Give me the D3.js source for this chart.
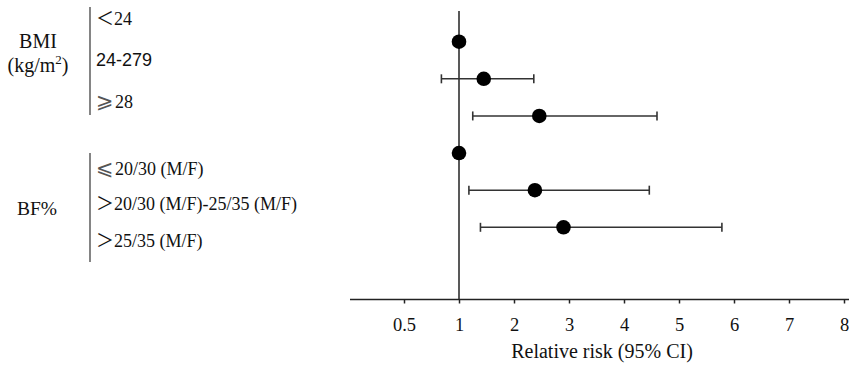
<!DOCTYPE html>
<html>
<head>
<meta charset="utf-8">
<script src="https://cdn.jsdelivr.net/npm/d3@7"></script>
<style>
  body { margin: 0; background: #fff; }
  text { font-family: "Liberation Serif", "Times New Roman", serif; fill: #111; }
</style>
</head>
<body>
<div id="chart"></div>
<script>
// data
const categories = ["＜24", "24-279", "⩾28", "⩽20/30 (M/F)", "＞20/30 (M/F)-25/35 (M/F)", "＞25/35 (M/F)"];
const groups = ["BMI", "BMI", "BMI", "BF%", "BF%", "BF%"];
const rr = [1, 1.45, 2.46, 1, 2.38, 2.90];
const ciLow = [null, 0.84, 1.25, null, 1.18, 1.39];
const ciHigh = [null, 2.36, 4.60, null, 4.46, 5.78];
const tickValues = [0.5, 1, 2, 3, 4, 5, 6, 7, 8];

const width = 849, height = 365;
const axisY = 299.5;
// label baselines are not aligned with points in the source figure
const labelBaseline = [25, 66, 108, 175, 210, 246.5];

const svg = d3.select("#chart").append("svg")
  .attr("width", width)
  .attr("height", height);

// ticks are evenly spaced, so piecewise linear scale
const x = d3.scaleLinear()
  .domain(tickValues)
  .range(tickValues.map((d, i) => 404 + i * 55));

const y = d3.scalePoint()
  .domain(categories)
  .range([41.7, 227.3]);

// axis
const axis = svg.append("g")
  .attr("transform", `translate(0,${axisY})`)
  .call(d3.axisBottom(x).tickValues(tickValues).tickFormat(d3.format("")).tickSize(4).tickSizeOuter(0));
axis.select(".domain").remove();
axis.selectAll(".tick line").attr("stroke", "#222").attr("stroke-width", 1.5);
axis.selectAll(".tick text")
  .attr("y", 0).attr("dy", null)
  .attr("transform", "translate(0,31.5)")
  .style("font-family", "'Liberation Serif', serif")
  .style("font-size", "18.5px")
  .attr("fill", "#111");
axis.append("line")
  .attr("x1", 350).attr("x2", width)
  .attr("stroke", "#222").attr("stroke-width", 1.5);

svg.append("text")
  .attr("x", 602).attr("y", 358)
  .attr("text-anchor", "middle")
  .style("font-size", "20px")
  .text("Relative risk (95% CI)");

// reference line at RR = 1
svg.append("line")
  .attr("x1", x(1)).attr("x2", x(1))
  .attr("y1", 11).attr("y2", axisY)
  .attr("stroke", "#222").attr("stroke-width", 1.5);

// error bars
const rows = categories.map((c, i) => ({ c, rr: rr[i], lo: ciLow[i], hi: ciHigh[i] }));
const ci = svg.append("g").selectAll("g")
  .data(rows.filter(d => d.lo != null))
  .join("g")
  .attr("stroke", "#333").attr("stroke-width", 1.6);
ci.append("line")
  .attr("x1", d => x(d.lo)).attr("x2", d => x(d.hi))
  .attr("y1", d => y(d.c)).attr("y2", d => y(d.c));
ci.append("line")
  .attr("x1", d => x(d.lo)).attr("x2", d => x(d.lo))
  .attr("y1", d => y(d.c) - 4.5).attr("y2", d => y(d.c) + 4.5);
ci.append("line")
  .attr("x1", d => x(d.hi)).attr("x2", d => x(d.hi))
  .attr("y1", d => y(d.c) - 4.5).attr("y2", d => y(d.c) + 4.5);

// points
svg.append("g").selectAll("circle")
  .data(rows)
  .join("circle")
  .attr("cx", d => x(d.rr))
  .attr("cy", d => y(d.c))
  .attr("r", 7.3)
  .attr("fill", "#000");

// category labels; leading comparison sign drawn in its own tspan
const symbols = "＜＞⩽⩾";
const isSlant = c => c === "⩽" || c === "⩾";
const lab = svg.append("g").selectAll("text")
  .data(categories)
  .join("text")
  .attr("x", 96)
  .attr("y", (d, i) => labelBaseline[i])
  .style("font-size", "18px")
  .style("font-family", (d, i) => i === 1 ? "'Liberation Sans', Arial, sans-serif" : "'Liberation Serif', serif");
lab.filter(d => symbols.includes(d[0]))
  .append("tspan")
  .style("font-family", d => isSlant(d[0]) ? "'DejaVu Sans', sans-serif" : "'Noto Sans CJK SC', sans-serif")
  .style("font-size", d => isSlant(d[0]) ? "21px" : "18px")
  .style("fill", d => isSlant(d[0]) ? "#555" : null)
  .text(d => d[0]);
lab.append("tspan")
  .attr("dx", d => isSlant(d[0]) ? 1.5 : 0)
  .text(d => symbols.includes(d[0]) ? d.slice(1) : d);

// group brackets
const groupNames = Array.from(new Set(groups));
const bracket = { "BMI": [7, 115], "BF%": [153, 262] };
svg.append("g").selectAll("line")
  .data(groupNames)
  .join("line")
  .attr("x1", 90).attr("x2", 90)
  .attr("y1", d => bracket[d][0]).attr("y2", d => bracket[d][1])
  .attr("stroke", "#666").attr("stroke-width", 1.6);

svg.append("text")
  .attr("x", 38).attr("y", 48)
  .attr("text-anchor", "middle")
  .style("font-size", "20px")
  .text("BMI");
const kg = svg.append("text")
  .attr("x", 38).attr("y", 72)
  .attr("text-anchor", "middle")
  .style("font-size", "20px");
kg.append("tspan").text("(kg/m");
kg.append("tspan").attr("dy", -8).style("font-size", "13px").text("2");
kg.append("tspan").attr("dy", 8).text(")");

svg.append("text")
  .attr("x", 37).attr("y", 215)
  .attr("text-anchor", "middle")
  .style("font-size", "19.5px")
  .text("BF%");
</script>
</body>
</html>
